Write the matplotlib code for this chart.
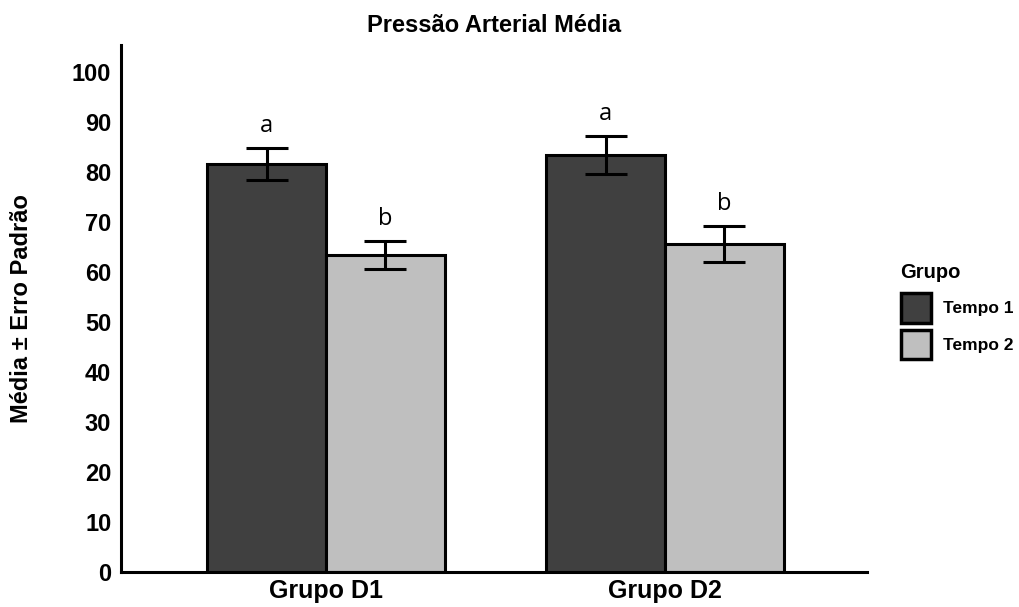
import numpy as np
import matplotlib
matplotlib.use('Agg')
import matplotlib.pyplot as plt
from matplotlib.patches import Patch

grupos = ['Grupo D1', 'Grupo D2']
tempos = ['Tempo 1', 'Tempo 2']
media_t1 = [81.7, 83.4]
media_t2 = [63.4, 65.7]
erro_t1 = [3.2, 3.8]
erro_t2 = [2.75, 3.6]
letras_t1 = ['a', 'a']
letras_t2 = ['b', 'b']

plt.rcParams['font.family'] = ['Liberation Sans', 'DejaVu Sans']

fig = plt.figure(figsize=(10.2, 6.07), dpi=100)
ax = fig.add_axes([121/1020, 35/607, (867-121)/1020, (572-45)/607])

x = np.arange(len(grupos))
w = 0.35
cores = ['#404040', '#bfbfbf']

for i, (med, err, let) in enumerate([(media_t1, erro_t1, letras_t1),
                                      (media_t2, erro_t2, letras_t2)]):
    pos = x + (i - 0.5) * w
    ax.bar(pos, med, width=w, color=cores[i], edgecolor='black', linewidth=2.2, zorder=2)
    ax.errorbar(pos, med, yerr=err, fmt='none', ecolor='black', elinewidth=2.2,
                capsize=15, capthick=2.2, zorder=3)
    for p, m, e, l in zip(pos, med, err, let):
        ax.text(p, m + e + 2, l, ha='center', va='bottom', fontsize=17,
                family=['Open Sans', 'DejaVu Sans'])

ax.set_xlim(-0.605, 1.596)
ax.set_ylim(0, 105.4)
ax.set_yticks(range(0, 101, 10))
ax.set_xticks(x)
ax.set_xticklabels(grupos, fontsize=18, fontweight='bold')
for t in ax.get_yticklabels():
    t.set_fontsize(17)
    t.set_fontweight('bold')
ax.tick_params(axis='y', length=0, pad=7)
ax.tick_params(axis='x', length=0, pad=5)
ax.spines['top'].set_visible(False)
ax.spines['right'].set_visible(False)
ax.spines['left'].set_linewidth(2.2)
ax.spines['bottom'].set_linewidth(2.2)

ax.set_title('Pressão Arterial Média', fontsize=17, fontweight='bold', pad=9)
ax.set_ylabel('Média ± Erro Padrão', fontsize=17, fontweight='bold', labelpad=28)

# titulo da legenda separado para controlar o espaco
fig.text(900/1020, 1 - 272/607, 'Grupo', ha='left', va='center',
         fontsize=14.5, fontweight='bold')
handles = [Patch(facecolor=cores[k], edgecolor='black', linewidth=2.5, label=tempos[k])
           for k in range(2)]
leg = fig.legend(handles=handles, loc='upper left',
                 bbox_to_anchor=(894/1020, 1 - 286/607), frameon=False,
                 prop={'weight': 'bold', 'size': 12.5}, handlelength=1.75, handleheight=2.25,
                 handletextpad=0.65, labelspacing=0.4, borderaxespad=0)

fig.savefig('out.png', dpi=100)
